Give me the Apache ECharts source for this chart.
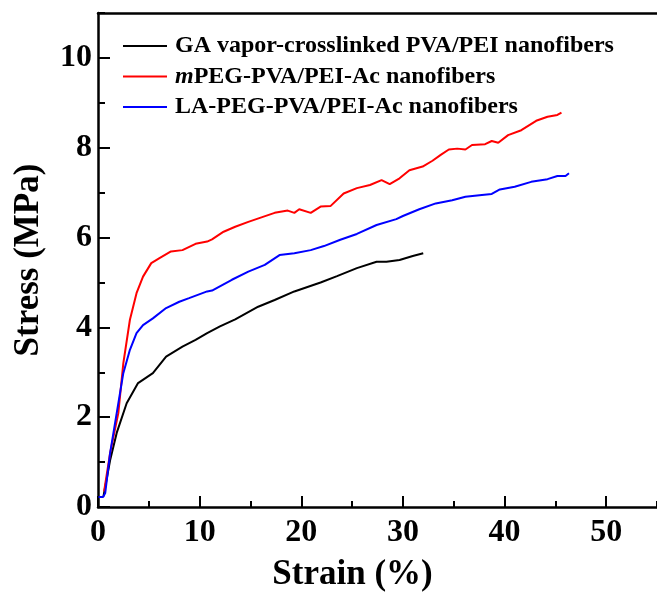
<!DOCTYPE html>
<html>
<head>
<meta charset="utf-8">
<script src="https://cdn.jsdelivr.net/npm/echarts@6/dist/echarts.min.js"></script>
<style>
html,body{margin:0;padding:0;background:#fff;}
#chart{width:657px;height:598px;}
</style>
</head>
<body>
<div id="chart"></div>
<script>
const seriesNames = ['GA vapor-crosslinked PVA/PEI nanofibers', 'mPEG-PVA/PEI-Ac nanofibers', 'LA-PEG-PVA/PEI-Ac nanofibers'];
const legendLabels = ['GA vapor-crosslinked PVA/PEI nanofibers', '{i|m}PEG-PVA/PEI-Ac nanofibers', 'LA-PEG-PVA/PEI-Ac nanofibers'];
const xTicks = [0, 10, 20, 30, 40, 50];
const yTicks = [0, 2, 4, 6, 8, 10];

const strainGA = [0.54,1.19,1.84,2.82,3.94,5.4,6.7,8.31,9.6,10.74,12.0,13.5,15.76,17.38,19.32,21.9,23.52,25.47,27.41,28.38,29.67,30.97,32.0];
const stressGA = [0.24,1.04,1.65,2.31,2.76,2.98,3.35,3.57,3.72,3.87,4.02,4.18,4.46,4.61,4.8,5.0,5.14,5.32,5.46,5.46,5.5,5.59,5.65];

const strainMPEG = [0.6,1.19,2.0,2.49,3.14,3.79,4.43,5.24,6.05,7.18,8.31,9.6,10.74,11.22,12.36,13.5,14.79,16.08,17.38,18.67,19.32,19.8,20.93,21.9,22.87,24.17,25.47,26.76,27.9,28.7,29.67,30.64,31.94,32.91,33.72,34.52,35.34,36.15,36.8,38.09,38.74,39.38,40.35,41.65,43.11,44.23,45.2,45.6];
const stressMPEG = [0.35,1.2,2.09,3.2,4.17,4.76,5.13,5.43,5.54,5.69,5.72,5.86,5.91,5.96,6.13,6.24,6.35,6.45,6.55,6.6,6.55,6.63,6.55,6.69,6.7,6.98,7.1,7.17,7.28,7.19,7.32,7.5,7.58,7.71,7.84,7.96,7.98,7.96,8.06,8.08,8.15,8.11,8.28,8.39,8.6,8.69,8.73,8.78];

const strainLA = [0.05,0.5,0.71,1.19,1.84,2.49,3.14,3.79,4.43,5.4,6.7,8.0,8.96,10.74,11.22,13.17,14.79,16.41,17.86,19.32,20.93,22.23,23.84,25.47,27.41,29.35,30.0,31.61,33.23,34.85,36.15,37.77,38.74,39.54,41.0,42.62,44.23,45.2,46.0,46.34];
const stressLA = [0.22,0.22,0.31,1.2,2.09,2.98,3.5,3.87,4.05,4.2,4.43,4.57,4.65,4.8,4.82,5.06,5.24,5.39,5.61,5.65,5.72,5.81,5.95,6.08,6.28,6.41,6.48,6.63,6.76,6.83,6.91,6.95,6.97,7.07,7.13,7.24,7.3,7.37,7.37,7.43];

const colors = ['#000000', '#ff0000', '#0000ff'];
const FONT = '"Liberation Serif", "Times New Roman", serif';

function pairs(xs, ys) { return xs.map((x, i) => [x, ys[i]]); }
const allData = [pairs(strainGA, stressGA), pairs(strainMPEG, stressMPEG), pairs(strainLA, stressLA)];

const chart = echarts.init(document.getElementById('chart'), null, {renderer: 'canvas'});
const gridBox = {left: 98, top: 13, width: 566, height: 494};
const labelStyle = {fontFamily: FONT, fontWeight: 'bold', fontSize: 32, color: '#000'};

chart.setOption({
  animation: false,
  backgroundColor: '#fff',
  grid: [Object.assign({}, gridBox), Object.assign({}, gridBox)],
  legend: {
    left: 123, top: 34, orient: 'vertical', padding: 0,
    itemWidth: 44, itemHeight: 2, itemGap: 6.5,
    icon: 'rect',
    data: seriesNames,
    formatter: function (name) { return legendLabels[seriesNames.indexOf(name)]; },
    textStyle: {
      fontFamily: FONT, fontWeight: 'bold', fontSize: 24, color: '#000', padding: [0, 0, 0, 3],
      rich: {i: {fontFamily: FONT, fontWeight: 'bold', fontStyle: 'italic', fontSize: 24, color: '#000'}}
    },
    selectedMode: false
  },
  xAxis: [
    {
      gridIndex: 0, type: 'value', min: 0, max: 55, interval: 10, position: 'bottom',
      name: 'Strain (%)', nameLocation: 'middle', nameGap: 50,
      nameTextStyle: {fontFamily: FONT, fontWeight: 'bold', fontSize: 35, color: '#000', padding: [0, 50, 0, 0]},
      axisLine: {show: true, lineStyle: {color: '#000', width: 2.5}},
      axisTick: {show: true, inside: true, length: 11, lineStyle: {color: '#000', width: 2}},
      axisLabel: Object.assign({margin: 10, showMaxLabel: false, formatter: v => xTicks.includes(v) ? String(v) : ''}, labelStyle),
      splitLine: {show: false}
    },
    {
      gridIndex: 0, type: 'value', min: 0, max: 55, position: 'top',
      axisLine: {show: true, lineStyle: {color: '#000', width: 2.5}},
      axisTick: {show: false}, axisLabel: {show: false}, splitLine: {show: false}
    },
    {
      gridIndex: 1, type: 'value', min: 0, max: 55, interval: 5, position: 'bottom',
      axisLine: {show: false},
      axisTick: {show: true, inside: true, length: 6, lineStyle: {color: '#000', width: 2}},
      axisLabel: {show: false}, splitLine: {show: false}
    }
  ],
  yAxis: [
    {
      gridIndex: 0, type: 'value', min: 0, max: 11, interval: 2,
      name: 'Stress (MPa)', nameLocation: 'middle', nameGap: 52,
      nameTextStyle: {fontFamily: FONT, fontWeight: 'bold', fontSize: 35, color: '#000'},
      axisLine: {show: true, lineStyle: {color: '#000', width: 2.5}},
      axisTick: {show: true, inside: true, length: 12, lineStyle: {color: '#000', width: 2}},
      axisLabel: Object.assign({margin: 6, showMaxLabel: false, formatter: v => yTicks.includes(v) ? String(v) : ''}, labelStyle),
      splitLine: {show: false}
    },
    {
      gridIndex: 1, type: 'value', min: 0, max: 11, interval: 1,
      axisLine: {show: false},
      axisTick: {show: true, inside: true, length: 7, lineStyle: {color: '#000', width: 2}},
      axisLabel: {show: false}, splitLine: {show: false}
    }
  ],
  series: seriesNames.map((n, i) => ({
    name: n, type: 'line', xAxisIndex: 0, yAxisIndex: 0,
    data: allData[i], showSymbol: false, symbol: 'none',
    lineStyle: {color: colors[i], width: 2}, itemStyle: {color: colors[i]},
    smooth: false
  }))
});
</script>
</body>
</html>
